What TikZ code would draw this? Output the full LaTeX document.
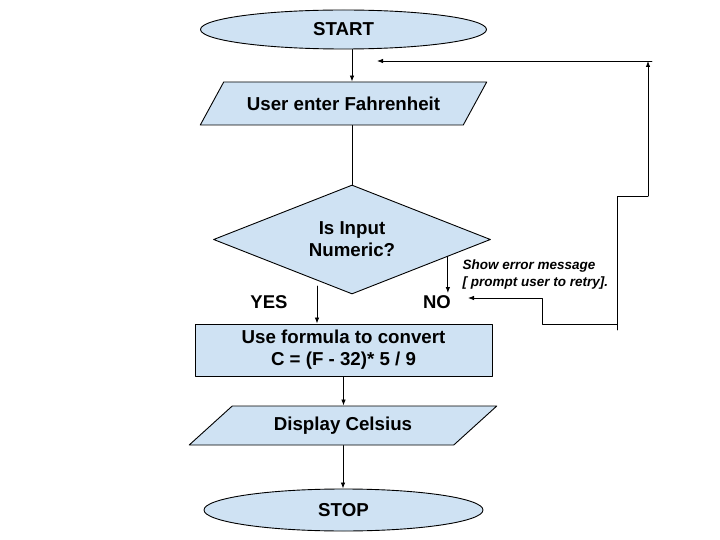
\documentclass[tikz,border=0pt]{standalone}
\usepackage{fontspec}
\setmainfont{Liberation Sans}
\usetikzlibrary{shapes.geometric, arrows.meta, calc}
\definecolor{boxblue}{HTML}{CFE2F3}
\tikzset{>=latex}
\tikzset{shape base/.style={draw, fill=boxblue, line width=0.9pt, inner sep=0pt, align=center, font=\fontsize{18.7}{22}\selectfont\bfseries}}
\tikzset{term/.style={shape base, ellipse, minimum width=286pt, minimum height=39pt}}
\tikzset{io/.style={shape base, trapezium, trapezium left angle=36, trapezium right angle=144, trapezium stretches=true, minimum width=287pt, minimum height=43pt}}
\tikzset{proc/.style={shape base, rectangle, minimum width=297pt, minimum height=52pt}}
\tikzset{decision/.style={shape base, diamond, aspect=2.5, minimum width=277pt, minimum height=109pt}}
\tikzset{answer/.style={font=\fontsize{18.5}{21}\selectfont\bfseries}}
\tikzset{vec/.style={black, line width=0.8pt, -{Latex[length=6pt, width=4.5pt]}}}
\tikzset{wire/.style={black, line width=0.8pt}}

\begin{document}
\begin{tikzpicture}[x=1pt, y=-1pt, line cap=round, line join=round]

	% Canvas
	\useasboundingbox[fill=white] (0,0) rectangle (720,540);

	% Nodes
	\node[term] (start) at (343.5,29.5) {START};
	\node[io] (input) at (343.5,103.5) {User enter Fahrenheit};
	\node[decision] (check) at (352,239.5) {Is Input\\Numeric?};
	\node[proc] (calc) at (343.5,350) {Use formula to convert\\C = (F - 32)* 5 / 9};
	\node[io, trapezium left angle=33, trapezium right angle=147, minimum width=308pt, minimum height=39pt] (show) at (343,425.5) {Display Celsius};
	\node[term, minimum width=279pt, minimum height=42pt] (stop) at (343.5,510) {STOP};

	\node[answer] (yes) at (269,302) {YES};
	\node[answer] (no) at (437,302) {NO};
	\node[anchor=west, align=left, font=\fontsize{13.5}{17}\selectfont\bfseries\itshape] (err) at (459,274.5) {Show error message\\{[} prompt user to retry{]}.};

	% Main flow
	\draw[vec] (start.south -| check.north) -- (input.north -| check.north);
	\draw[wire] (input.south -| check.north) -- (check.north);
	\coordinate (yesTop) at (317,286);
	\draw[vec] (yesTop) -- (yesTop |- calc.north);
	\coordinate (noTop) at ($(check.east)!0.31!(check.south)$);
	\draw[vec] (noTop) -- (noTop |- 0,293);
	\draw[vec] (calc.south) -- (show.north -| calc.south);
	\draw[vec] (show.south) -- (stop.north -| show.south);

	% Retry loop
	\coordinate (loopLow) at (617,330);
	\coordinate (loopJoin) at (617,324);
	\coordinate (loopStep) at (617,196);
	\coordinate (loopTop) at (648,61);
	\coordinate (backIn) at (377,61);
	\draw[vec] (loopJoin) -| (542,298) -- (468,298);
	\draw[wire] (loopLow) -- (loopStep) -- (loopStep -| loopTop);
	\draw[vec] (loopStep -| loopTop) -- (loopTop);
	\draw[vec] ([xshift=4pt]loopTop) -- (backIn);
\end{tikzpicture}
\end{document}
